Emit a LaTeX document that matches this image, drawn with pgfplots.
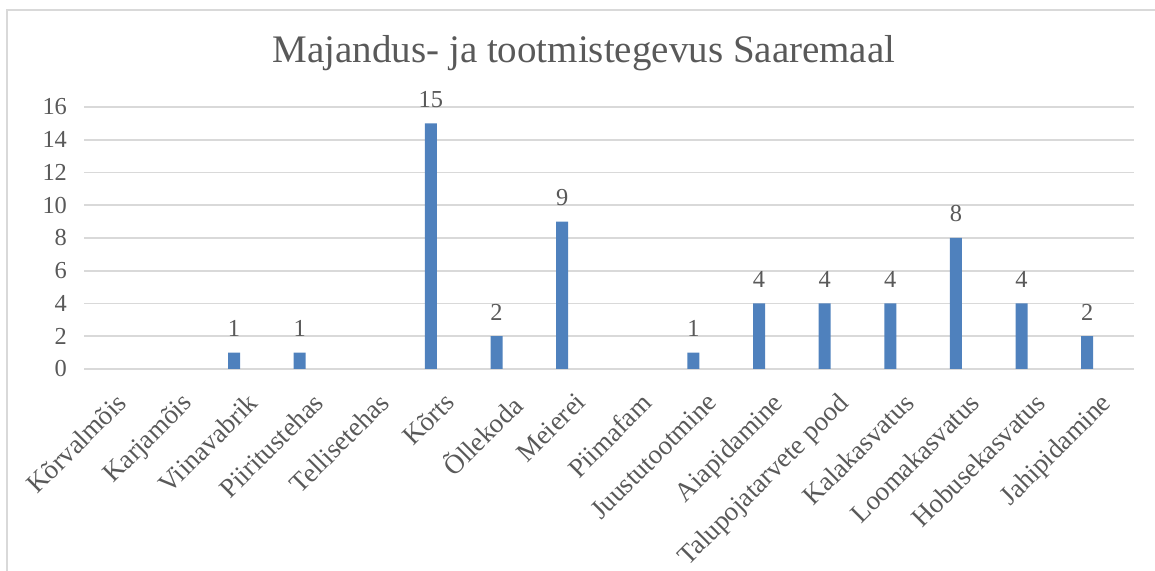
\documentclass[border=0pt]{standalone}
\usepackage{pgfplots}
\pgfplotsset{compat=1.18}
\usepackage{fontspec}
\setmainfont{Liberation Serif}
\definecolor{mytxt}{HTML}{595959}
\definecolor{mygrid}{HTML}{D9D9D9}
\definecolor{mybar}{HTML}{4F81BD}
\begin{document}
\begin{tikzpicture}
\useasboundingbox (0pt,0pt) rectangle (577.5pt,285.5pt);
\draw[mygrid, line width=0.8pt] (3.5pt,-20pt) -- (3.5pt,280.5pt) -- (600pt,280.5pt);
\node[mytxt, font=\fontsize{19.5}{22}\selectfont] at (292pt,259pt) {Majandus- ja tootmistegevus Saaremaal};
\begin{axis}[
  at={(42pt,101pt)}, anchor=south west,
  scale only axis, width=525pt, height=131pt,
  xmin=-0.5, xmax=15.5, ymin=0, ymax=16,
  ytick={0,2,...,16},
  xtick={0,...,15},
  xticklabels={Kõrvalmõis,Karjamõis,Viinavabrik,Piiritustehas,Tellisetehas,Kõrts,Õllekoda,Meierei,Piimafam,Juustutootmine,Aiapidamine,Talupojatarvete pood,Kalakasvatus,Loomakasvatus,Hobusekasvatus,Jahipidamine},
  x tick label style={xshift=-1pt, yshift=-11pt, rotate=45, anchor=north east, font=\fontsize{13.5}{15}\selectfont, text=mytxt, inner sep=0pt},
  y tick label style={font=\fontsize{12.2}{14}\selectfont, text=mytxt, xshift=-5pt},
  /pgf/number format/assume math mode=true,
  axis line style={draw=none},
  major tick length=0pt,
  ymajorgrids, xmajorgrids=false, grid style={draw=mygrid, line width=0.8pt},
  ybar, bar width=6pt, bar shift=-7pt,
  restrict y to domain=0.01:100,
  nodes near coords, point meta=explicit symbolic,
  every node near coord/.style={font=\fontsize{12.2}{14}\selectfont, text=mytxt, yshift=4.5pt, xshift=-7pt},
  clip=false,
]
\addplot[fill=mybar, draw=none] coordinates {
 (0,0) [] (1,0) [] (2,1) [1] (3,1) [1] (4,0) [] (5,15) [15] (6,2) [2] (7,9) [9]
 (8,0) [] (9,1) [1] (10,4) [4] (11,4) [4] (12,4) [4] (13,8) [8] (14,4) [4] (15,2) [2]
};
\end{axis}
\end{tikzpicture}
\end{document}
